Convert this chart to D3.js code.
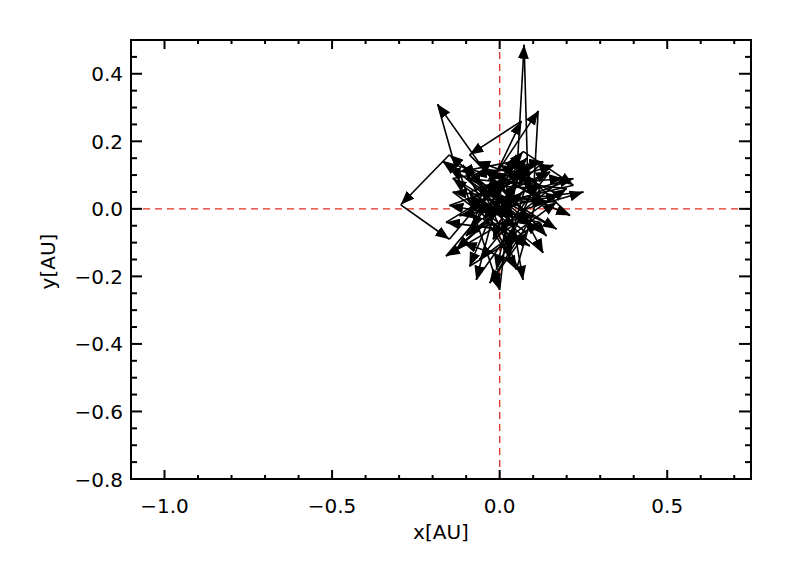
<!DOCTYPE html>
<html><head><meta charset="utf-8">
<script src="https://cdn.jsdelivr.net/npm/d3@7"></script>
<style>body{margin:0;background:#fff}svg{display:block}text{font-family:"DejaVu Sans",Arial,Helvetica,sans-serif}</style>
</head><body>
<script>
// Random-walk positions [x AU, y AU]; each step drawn as an arrow
const xs = [0.00,0.05,0.073,0.085,-0.05,-0.185,-0.12,0.10,-0.15,-0.295,-0.15,0.07,0.22,-0.08,0.115,0.10,0.21,0.04,-0.12,0.00,0.03,-0.10,0.065,-0.09,0.02,0.15,-0.06,0.17,-0.14,0.06,-0.03,0.14,-0.17,0.01,-0.07,0.08,0.25,-0.02,-0.11,0.05,0.12,-0.04,0.19,0.00,-0.16,0.09,0.02,-0.09,0.16,-0.13,0.04,0.13,-0.05,0.08,-0.02,0.20,-0.10,0.03,-0.16,0.06,-0.01,0.11,-0.07,0.05,-0.12,0.18,0.00,-0.08,0.10,-0.03,0.08,-0.14,0.13,-0.05,0.09,-0.10,0.14,-0.02,0.03,-0.11,0.07,0.22,-0.04,0.05,-0.09,0.12,-0.15,0.02,0.07,-0.06,0.17,-0.02,0.10,-0.08,0.00];
const ys = [0.00,0.08,0.486,0.05,0.12,0.31,0.08,-0.05,0.16,0.012,-0.09,0.17,0.07,0.00,0.29,0.03,-0.02,0.14,0.11,-0.24,0.02,-0.08,0.26,0.16,0.05,0.11,-0.15,0.02,0.05,-0.10,0.10,-0.08,0.14,0.09,-0.21,0.00,0.05,0.02,0.13,-0.18,0.06,0.07,0.09,-0.06,-0.04,0.11,-0.13,0.05,0.13,-0.12,0.04,-0.13,0.02,0.15,-0.09,0.06,0.09,-0.03,-0.14,0.12,-0.18,0.08,0.14,0.01,-0.02,0.04,0.13,-0.06,-0.02,-0.22,-0.07,0.09,0.14,-0.03,-0.11,0.03,0.02,0.11,-0.15,-0.10,0.05,0.09,-0.01,0.16,-0.17,-0.04,0.01,0.07,-0.21,0.08,-0.06,0.04,0.13,0.10,0.03];
const xDomain = [-1.1, 0.75];
const yDomain = [-0.8, 0.5];
const xMajor = [-1.0, -0.5, 0.0, 0.5];
const xMinor = d3.range(-10, 8).map(i => i / 10);
const yMajor = [-0.8, -0.6, -0.4, -0.2, 0.0, 0.2, 0.4];
const yMinor = d3.range(-16, 11).map(i => i / 20);
const xLabel = "x[AU]";
const yLabel = "y[AU]";

const W = 789, H = 563;
const m = {l:131, r:751, t:40, b:479};
const svg = d3.select("body").append("svg").attr("width", W).attr("height", H);
const x = d3.scaleLinear().domain(xDomain).range([m.l, m.r]);
const y = d3.scaleLinear().domain(yDomain).range([m.b, m.t]);
const fmt = v => (v < 0 ? "\u2212" : "") + Math.abs(v).toFixed(1);

// reference dashed lines
svg.append("line").attr("x1", x(0)).attr("x2", x(0)).attr("y1", m.t).attr("y2", m.b)
  .attr("stroke", "#e0301e").attr("stroke-width", 1.3).attr("stroke-dasharray", "7,5");
svg.append("line").attr("x1", m.l).attr("x2", m.r).attr("y1", y(0)).attr("y2", y(0))
  .attr("stroke", "#e0301e").attr("stroke-width", 1.3).attr("stroke-dasharray", "7,5");

// arrows
const defs = svg.append("defs");
defs.append("marker").attr("id", "ah").attr("viewBox", "0 0 14 11").attr("refX", 14).attr("refY", 5.5)
  .attr("markerWidth", 14).attr("markerHeight", 11).attr("markerUnits", "userSpaceOnUse").attr("orient", "auto")
  .append("path").attr("d", "M0,0 L14,5.5 L0,11 Z").attr("fill", "#000");
const steps = d3.range(xs.length - 1);
svg.append("g").selectAll("line").data(steps).join("line")
  .attr("x1", i => x(xs[i])).attr("y1", i => y(ys[i]))
  .attr("x2", i => x(xs[i+1])).attr("y2", i => y(ys[i+1]))
  .attr("stroke", "#000").attr("stroke-width", 1.6).attr("marker-end", "url(#ah)");

// axes (IDL style: ticks inward on all four sides)
const axG = svg.append("g");
function ticks(scale, vals, orient, len) {
  vals.forEach(v => {
    const p = scale(v);
    if (orient === "b") axG.append("line").attr("x1", p).attr("x2", p).attr("y1", m.b).attr("y2", m.b - len);
    if (orient === "t") axG.append("line").attr("x1", p).attr("x2", p).attr("y1", m.t).attr("y2", m.t + len);
    if (orient === "l") axG.append("line").attr("y1", p).attr("y2", p).attr("x1", m.l).attr("x2", m.l + len);
    if (orient === "r") axG.append("line").attr("y1", p).attr("y2", p).attr("x1", m.r).attr("x2", m.r - len);
  });
}
const xMin = xMinor.filter(v => !xMajor.some(M => Math.abs(M - v) < 1e-9));
const yMin = yMinor.filter(v => !yMajor.some(M => Math.abs(M - v) < 1e-9));
ticks(x, xMajor, "b", 9); ticks(x, xMin, "b", 4);
ticks(x, xMajor, "t", 9); ticks(x, xMin, "t", 4);
ticks(y, yMajor, "l", 11); ticks(y, yMin, "l", 6);
ticks(y, yMajor, "r", 12); ticks(y, yMin, "r", 6);
axG.selectAll("line").attr("stroke", "#000").attr("stroke-width", 2);
axG.append("rect").attr("x", m.l).attr("y", m.t).attr("width", m.r - m.l).attr("height", m.b - m.t)
  .attr("fill", "none").attr("stroke", "#000").attr("stroke-width", 2);

// tick labels
svg.append("g").selectAll("text").data(xMajor).join("text")
  .attr("x", d => x(d)).attr("y", 513).attr("text-anchor", "middle")
  .attr("font-size", 20).text(fmt);
svg.append("g").selectAll("text").data(yMajor).join("text")
  .attr("x", 123).attr("y", d => y(d) + 7.5).attr("text-anchor", "end")
  .attr("font-size", 20).text(fmt);

// axis titles
svg.append("text").attr("x", (m.l + m.r) / 2).attr("y", 539).attr("text-anchor", "middle")
  .attr("font-size", 20).text(xLabel);
svg.append("text").attr("transform", `translate(55,${(m.t + m.b) / 2 + 2}) rotate(-90)`)
  .attr("text-anchor", "middle").attr("font-size", 20).text(yLabel);
</script>
</body></html>
